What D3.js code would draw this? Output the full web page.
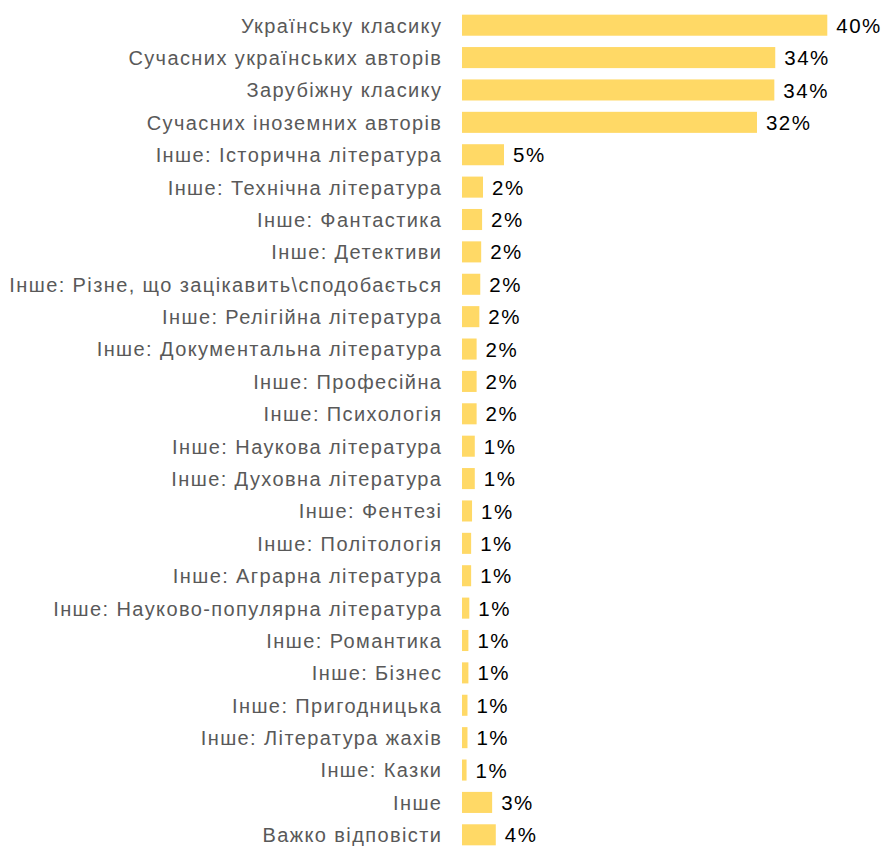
<!DOCTYPE html>
<html><head><meta charset="utf-8">
<script src="https://cdn.jsdelivr.net/npm/d3@7/dist/d3.min.js"></script>
<style>html,body{margin:0;padding:0;background:#fff;}</style>
</head><body>
<svg id="chart" width="883" height="846"></svg>
<script>
const categories = [
  "Українську класику",
  "Сучасних українських авторів",
  "Зарубіжну класику",
  "Сучасних іноземних авторів",
  "Інше: Історична література",
  "Інше: Технічна література",
  "Інше: Фантастика",
  "Інше: Детективи",
  "Інше: Різне, що зацікавить\\сподобається",
  "Інше: Релігійна література",
  "Інше: Документальна література",
  "Інше: Професійна",
  "Інше: Психологія",
  "Інше: Наукова література",
  "Інше: Духовна література",
  "Інше: Фентезі",
  "Інше: Політологія",
  "Інше: Аграрна література",
  "Інше: Науково-популярна література",
  "Інше: Романтика",
  "Інше: Бізнес",
  "Інше: Пригодницька",
  "Інше: Література жахів",
  "Інше: Казки",
  "Інше",
  "Важко відповісти"
];
const values = [40.0, 34.3, 34.2, 32.3, 4.6, 2.3, 2.2, 2.1, 2.0, 1.9, 1.6, 1.6, 1.6, 1.4, 1.4, 1.1, 1.0, 1.0, 0.8, 0.7, 0.7, 0.6, 0.6, 0.5, 3.3, 3.7];
const valueLabels = ["40%","34%","34%","32%","5%","2%","2%","2%","2%","2%","2%","2%","2%","1%","1%","1%","1%","1%","1%","1%","1%","1%","1%","1%","3%","4%"];

const svg = d3.select("#chart");
const x0 = 462;
const x = d3.scaleLinear().domain([0, 40]).range([x0, x0 + 365.3]);
const y = d3.scaleBand().domain(categories).range([9, 851]).paddingInner(0.35).paddingOuter(0.175);

const data = categories.map((c, i) => ({c, v: values[i], l: valueLabels[i]}));

svg.selectAll("rect.bar").data(data).join("rect")
  .attr("class", "bar")
  .attr("x", x(0))
  .attr("y", d => y(d.c))
  .attr("width", d => x(d.v) - x(0))
  .attr("height", y.bandwidth())
  .attr("fill", "#FFD966");

svg.selectAll("text.cat").data(data).join("text")
  .attr("class", "cat")
  .attr("x", 442.4)
  .attr("y", d => y(d.c) + y.bandwidth() / 2)
  .attr("dy", "0.37em")
  .attr("text-anchor", "end")
  .attr("font-family", "Liberation Sans, Arial, sans-serif")
  .attr("font-size", 20)
  .attr("letter-spacing", 1.4)
  .attr("fill", "#595959")
  .text(d => d.c);

svg.selectAll("text.val").data(data).join("text")
  .attr("class", "val")
  .attr("x", d => x(d.v) + 9)
  .attr("y", d => y(d.c) + y.bandwidth() / 2)
  .attr("dy", "0.37em")
  .attr("font-family", "Liberation Sans, Arial, sans-serif")
  .attr("font-size", 20.5)
  .attr("letter-spacing", 1.5)
  .attr("fill", "#000")
  .text(d => d.l);
</script>
</body></html>
